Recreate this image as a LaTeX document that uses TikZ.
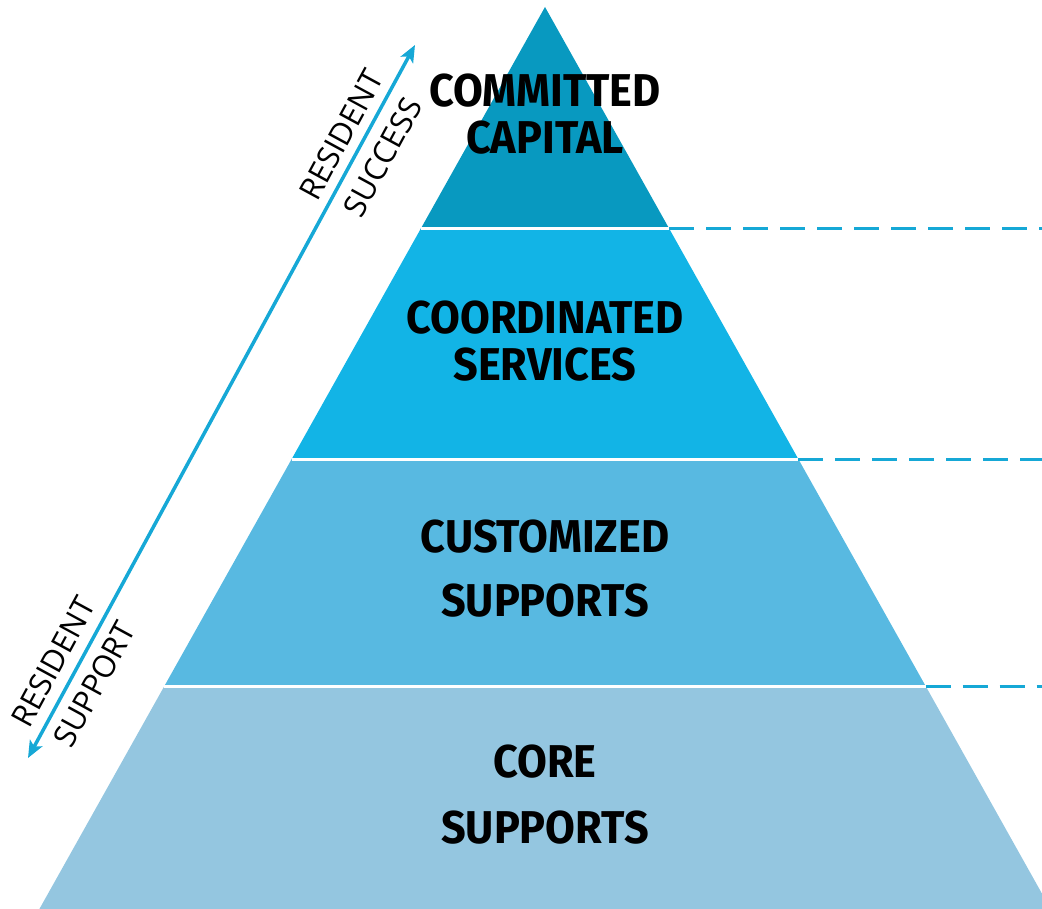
\documentclass[tikz,border=0pt]{standalone}
\usepackage{fontspec}
\setmainfont{Open Sans}
\newfontfamily\tierfont[FakeStretch=0.94]{Fira Sans}
\usepackage{tikz}
\usetikzlibrary{arrows.meta}
\definecolor{capital}{RGB}{8,153,192}
\definecolor{services}{RGB}{18,180,230}
\definecolor{custom}{RGB}{88,185,225}
\definecolor{core}{RGB}{148,198,224}
\definecolor{lineblue}{RGB}{22,168,214}
\begin{document}
\begin{tikzpicture}[x=1pt,y=-1pt,>={Stealth[length=17pt,width=14pt,inset=4pt]},
  tier/.style={font=\tierfont\bfseries\fontsize{46}{47}\selectfont,align=center,inner sep=0pt},
  divider/.style={white,line width=3pt},
  guide/.style={draw=lineblue,line width=3pt,dash pattern=on 25pt off 12pt},
  trend/.style={draw=lineblue,line width=3.5pt},
  side/.style={font=\fontsize{31}{47}\selectfont,align=center,inner sep=0pt,rotate=61.5}]
  \useasboundingbox (0,0) rectangle (1042,909);
  \clip (0,0) rectangle (1042,909);

  \coordinate (Apex) at (545,7);
  \coordinate (L1) at (420.6,229);  \coordinate (R1) at (669.4,229);
  \coordinate (L2) at (291.7,459);  \coordinate (R2) at (798.3,459);
  \coordinate (L3) at (164.4,686);  \coordinate (R3) at (925.6,686);
  \coordinate (L4) at (39.4,909);   \coordinate (R4) at (1050.6,909);
  \coordinate (G1) at (1042,229);
  \coordinate (G2) at (1042,459);
  \coordinate (G3) at (1042,686);

  \fill[capital]  (Apex) -- (R1) -- (L1) -- cycle;
  \fill[services] (L1) -- (R1) -- (R2) -- (L2) -- cycle;
  \fill[custom]   (L2) -- (R2) -- (R3) -- (L3) -- cycle;
  \fill[core]     (L3) -- (R3) -- (R4) -- (L4) -- cycle;

  \draw[divider] (L1) -- (R1);
  \draw[divider] (L2) -- (R2);
  \draw[divider] (L3) -- (R3);
  \draw[guide] (R1) -- (G1);
  \draw[guide] (R2) -- (G2);
  \draw[guide] (R3) -- (G3);

  \node[tier] (Capital)  at (545,114) {COMMITTED\\CAPITAL};
  \node[tier] (Services) at (545,341) {COORDINATED\\SERVICES};
  \node[tier] (Custom)   at (545,569) {CUSTOMIZED\\[17pt]SUPPORTS};
  \node[tier] (Core)     at (545,795) {CORE\\[19pt]SUPPORTS};

  \coordinate (Low)  at (28,758);
  \coordinate (High) at (415,45);
  \draw[<->,trend] (Low) -- (High);
  \node[side] (Success) at (362,146) {RESIDENT\\SUCCESS};
  \node[side] (Support) at (74,673)  {RESIDENT\\SUPPORT};
\end{tikzpicture}
\end{document}
